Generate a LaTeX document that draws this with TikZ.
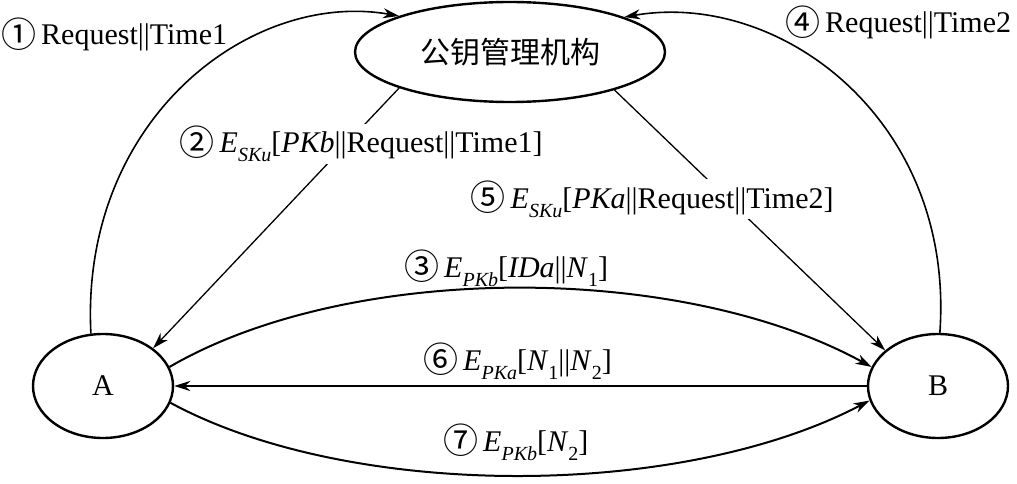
\documentclass[tikz,border=0pt]{standalone}
\usepackage{fontspec}
\setmainfont{Liberation Serif}
\newfontfamily\cjk{Noto Sans CJK SC}
\usetikzlibrary{shapes.geometric,arrows.meta}
\newcommand\cn[1]{{\cjk #1}}
\newcommand\circd[1]{{\cjk\fontsize{35}{35}\selectfont\raisebox{-0.06em}{#1}}\hspace{5pt}}
\newcommand\lowsub[1]{\raisebox{-0.3em}{\fontsize{20}{20}\selectfont #1}}
\newcommand\Esub[1]{\textit{E}\lowsub{\itshape #1}}
\newcommand\Nsub[1]{\textit{N}\lowsub{#1}}
\tikzset{
  ell/.style={ellipse, draw, line width=2.4pt, inner sep=0pt, font=\fontsize{30}{32}\selectfont},
  tip/.style={-{Stealth[length=16pt,width=10pt,inset=5pt]}},
  bigarc/.style={tip, line width=1.6pt},
  thinline/.style={tip, line width=1.3pt},
  msg/.style={tip, line width=2pt},
  lbl/.style={anchor=base west, inner sep=0pt, font=\fontsize{30}{32}\selectfont},
  wlbl/.style={lbl, fill=white, inner sep=1.5pt}
}
\begin{document}
\begin{tikzpicture}[x=1pt,y=-1pt]
\useasboundingbox (0,0) rectangle (1017,484);
\node[ell, minimum width=310pt, minimum height=100pt] (K) at (510,52) {\cn{公钥管理机构}};
\node[ell, minimum width=140pt, minimum height=104pt] (A) at (103,386) {A};
\node[ell, minimum width=140pt, minimum height=104pt] (B) at (938,386) {B};

\draw[bigarc] (A.103) .. controls (80,120) and (250,-10) .. (K.162);
\draw[bigarc] (B.88) .. controls (955,120) and (780,-10) .. (K.17);
\draw[thinline] (K.198) -- (A.37);
\draw[thinline] (K.340) -- (B.146);
\draw[msg] (A.16) .. controls (350,262) and (680,262) .. (B.164);
\draw[msg] (B.west) -- (A.east);
\draw[msg] (A.346) .. controls (350,500) and (680,500) .. (B.192);

\node[lbl] (l1) at (1,45) {\circd{①}Request||Time1};
\node[lbl] (l4) at (785,33) {\circd{④}Request||Time2};
\node[wlbl] (l2) at (178,153) {\circd{②}\Esub{SKu}[\textit{PKb}||Request||Time1]};
\node[wlbl] (l5) at (469,208) {\circd{⑤}\Esub{SKu}[\textit{PKa}||Request||Time2]};
\node[lbl] (l3) at (404,277) {\circd{③}\Esub{PKb}[\textit{IDa}||\Nsub{1}]};
\node[lbl] (l6) at (423,370) {\circd{⑥}\Esub{PKa}[\Nsub{1}||\Nsub{2}]};
\node[lbl] (l7) at (443,451) {\circd{⑦}\Esub{PKb}[\Nsub{2}]};
\end{tikzpicture}
\end{document}
